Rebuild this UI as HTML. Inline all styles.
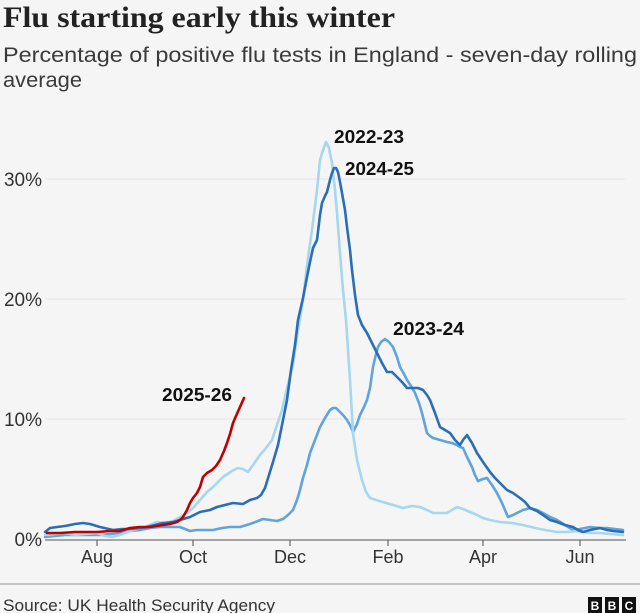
<!DOCTYPE html>
<html>
<head>
<meta charset="utf-8">
<style>
  html, body { margin:0; padding:0; background:#f5f5f5; }
  svg { display:block; }
</style>
</head>
<body>
<svg width="640" height="613" viewBox="0 0 640 613" xmlns="http://www.w3.org/2000/svg">
  <rect x="0" y="0" width="640" height="613" fill="#f5f5f5"/>

  <!-- Title -->
  <text x="3" y="27" font-family="'Liberation Serif', serif" font-weight="bold" font-size="30" fill="#222" textLength="392" lengthAdjust="spacingAndGlyphs">Flu starting early this winter</text>
  <!-- Subtitle -->
  <text x="3" y="62" font-family="'Liberation Sans', sans-serif" font-size="21" fill="#3a3a3a" textLength="634" lengthAdjust="spacingAndGlyphs">Percentage of positive flu tests in England - seven-day rolling</text>
  <text x="3" y="87" font-family="'Liberation Sans', sans-serif" font-size="21" fill="#3a3a3a" textLength="79" lengthAdjust="spacingAndGlyphs">average</text>

  <!-- Gridlines -->
  <g stroke="#e5e5e5" stroke-width="1">
    <line x1="46" y1="179" x2="625" y2="179"/>
    <line x1="46" y1="299" x2="625" y2="299"/>
    <line x1="46" y1="419" x2="625" y2="419"/>
  </g>

  <!-- Y labels -->
  <g font-family="'Liberation Sans', sans-serif" font-size="19" fill="#333" text-anchor="end">
    <text x="42" y="186">30%</text>
    <text x="42" y="306">20%</text>
    <text x="42" y="426">10%</text>
    <text x="42" y="546">0%</text>
  </g>

  <!-- Series -->
  <g fill="none" stroke-linejoin="round" stroke-linecap="round" stroke-width="2.6">
    <!-- 2023-24 -->
    <polyline stroke="#5fa4dc" points="45,537 55,536 65,535 75,535 85,535 100,535 110,534 120,533 130,531 140,530 150,528 160,527 170,527 180,527 190,531 197,530 205,530 213,530 222,528 230,527 240,527 250,524 258,521 263,519 270,520 277,521 283,519 288,515 293,510 297,500 300,490 303,478 307,465 310,453 315,440 320,427 325,418 330,410 333,408 336,408 340,412 343,415 347,420 350,425 353,432 357,424 360,415 364,407 367,400 370,388 373,367 376,354 378,347 381,342 385,339 389,342 393,347 397,357 400,367 404,374 407,380 411,386 415,393 419,403 422,413 425,425 427,433 430,436 433,438 440,440 447,442 452,443 457,445 460,447 463,448 467,457 472,467 475,475 478,481 483,479 487,478 492,485 497,493 502,503 508,517 513,515 517,513 523,510 530,508 537,510 543,513 550,517 557,520 565,525 573,530 580,529 590,527 600,528 607,528 615,529 623,530"/>
    <!-- 2022-23 -->
    <polyline stroke="#a6d7ef" points="45,535 55,534 65,533 75,535 85,534 97,533 105,536 112,537 120,535 133,530 145,527 157,522 165,523 173,521 180,517 187,513 193,508 200,500 207,492 213,487 223,477 232,471 238,468 243,469 248,472 253,465 260,455 266,448 272,440 277,425 282,410 287,388 293,365 298,330 303,300 307,265 312,230 317,190 320,160 323,150 326,142 329,148 332,163 335,190 337,213 340,253 343,290 346,320 350,380 353,433 357,460 362,480 366,492 370,498 376,500 383,502 393,505 403,508 412,506 420,507 427,510 433,513 440,513 447,513 452,510 457,507 463,509 470,512 477,515 483,518 490,520 500,522 512,523 523,525 535,528 545,530 557,532 567,532 577,531 590,533 600,533 610,534 623,535"/>
    <!-- 2024-25 -->
    <polyline stroke="#2a6eb6" points="45,532 50,528 57,527 65,526 75,524 83,523 90,524 100,527 113,530 122,529 130,529 140,528 147,527 155,525 163,523 173,522 180,520 190,517 200,512 210,510 217,507 225,505 233,503 243,504 250,500 257,498 261,495 265,488 269,475 273,462 278,445 283,420 287,400 291,370 295,345 298,320 303,298 307,277 310,262 313,248 317,240 320,215 322,203 325,196 327,192 330,180 332,173 334,168 336,168 338,172 340,182 342,193 345,210 347,227 350,250 352,270 355,295 358,315 362,325 367,333 372,343 377,353 382,363 387,372 392,372 397,377 402,382 407,388 413,388 418,388 423,390 427,395 430,400 435,413 440,427 445,430 450,433 455,440 460,445 463,440 467,435 472,443 477,453 483,462 490,472 495,478 500,483 507,490 513,493 520,498 525,502 530,508 537,511 543,515 550,520 557,522 565,525 573,527 578,530 583,532 590,530 600,528 607,530 613,531 623,532"/>
    <!-- 2025-26 -->
    <polyline stroke="#c00000" points="47,533 60,533 75,532 90,532 97,532 110,531 120,531 130,528 140,527 150,527 163,525 170,524 177,522 180,520 183,517 187,510 190,503 193,498 197,493 200,487 203,477 207,473 212,470 216,466 220,460 224,451 227,443 230,434 233,423 236,416 240,407 244,398"/>
  </g>

  <!-- Series labels -->
  <g font-family="'Liberation Sans', sans-serif" font-weight="bold" font-size="18" fill="#111">
    <text x="334" y="143" textLength="70" lengthAdjust="spacingAndGlyphs">2022-23</text>
    <text x="345" y="175" textLength="69" lengthAdjust="spacingAndGlyphs">2024-25</text>
    <text x="393" y="335" textLength="71" lengthAdjust="spacingAndGlyphs">2023-24</text>
    <text x="162" y="401" textLength="70" lengthAdjust="spacingAndGlyphs">2025-26</text>
  </g>

  <!-- X axis -->
  <line x1="45" y1="540" x2="626" y2="540" stroke="#8a8a8a" stroke-width="1.5"/>
  <g stroke="#666" stroke-width="1.2">
    <line x1="97" y1="540" x2="97" y2="546"/>
    <line x1="193" y1="540" x2="193" y2="546"/>
    <line x1="290" y1="540" x2="290" y2="546"/>
    <line x1="388" y1="540" x2="388" y2="546"/>
    <line x1="483" y1="540" x2="483" y2="546"/>
    <line x1="580" y1="540" x2="580" y2="546"/>
  </g>
  <g font-family="'Liberation Sans', sans-serif" font-size="18" fill="#333" text-anchor="middle">
    <text x="97" y="563">Aug</text>
    <text x="193" y="563">Oct</text>
    <text x="290" y="563">Dec</text>
    <text x="388" y="563">Feb</text>
    <text x="483" y="563">Apr</text>
    <text x="580" y="563">Jun</text>
  </g>

  <!-- Footer -->
  <line x1="0" y1="584" x2="640" y2="584" stroke="#b5b5b5" stroke-width="1.5"/>
  <text x="3" y="611" font-family="'Liberation Sans', sans-serif" font-size="17" fill="#333" textLength="272" lengthAdjust="spacingAndGlyphs">Source: UK Health Security Agency</text>
  <g>
    <rect x="588" y="597" width="14" height="16" fill="#111"/>
    <rect x="605" y="597" width="14" height="16" fill="#111"/>
    <rect x="622" y="597" width="14" height="16" fill="#111"/>
  </g>
  <g font-family="'Liberation Sans', sans-serif" font-weight="bold" font-size="12" fill="#fff" text-anchor="middle">
    <text x="595" y="610">B</text>
    <text x="612" y="610">B</text>
    <text x="629" y="610">C</text>
  </g>
</svg>
</body>
</html>
